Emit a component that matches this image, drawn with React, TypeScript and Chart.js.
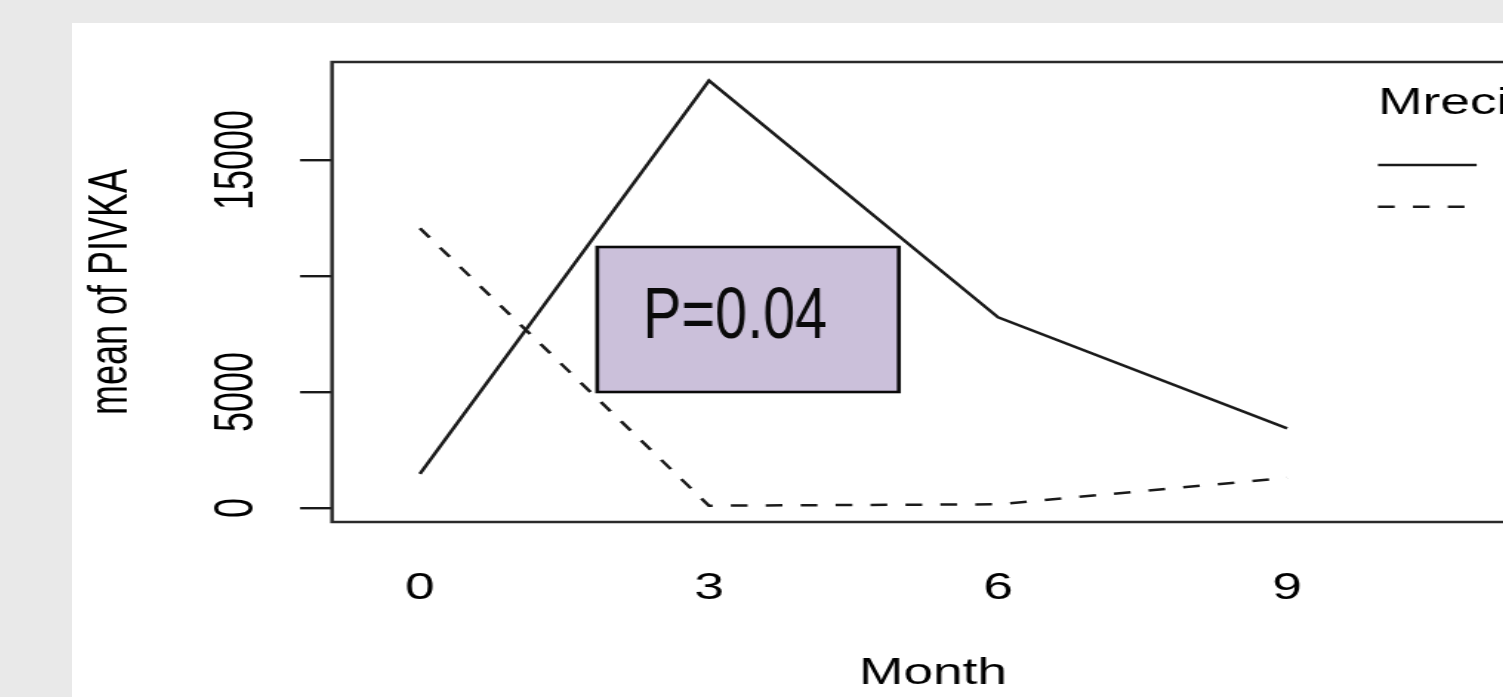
import React, { useEffect, useRef } from "react";
import { Chart, registerables } from "chart.js";

Chart.register(...registerables);

// ---- data ----
const MONTHS = [0, 3, 6, 9];
const SERIES_NAMES = ["CR/PR", "SD/PD"];
const SOLID_VALUES = [1470, 18420, 8220, 3435];
const DASHED_VALUES = [12056, 100, 160, 1300];
const Y_TICKS = [0, 5000, 10000, 15000];
const Y_TICK_LABELS = ["0", "5000", "", "15000"];
const X_TITLE = "Month";
const Y_TITLE = "mean of PIVKA";
const LEGEND_TITLE = "Mrecist";
const P_TEXT = "P=0.04";

// ---- layout / style constants ----
const STRETCH = 1.48;
const CANVAS_W = 1000;
const CANVAS_H = 674;
const FONT = '"Liberation Sans", Arial, Helvetica, sans-serif';
const P_BOX = { x0: 1.84, x1: 4.97, y0: 5000, y1: 11250 };
const LINE_W = 2.5;

const overlayPlugin = {
  id: "overlay",
  afterDatasetsDraw(chart: any) {
    const { ctx, chartArea, scales } = chart;
    const ys = scales.y;
    const xs = scales.x;
    ctx.save();
    // plot frame
    ctx.strokeStyle = "#2a2a2a";
    ctx.lineWidth = 2.5;
    ctx.setLineDash([]);
    ctx.strokeRect(chartArea.left, chartArea.top, chartArea.right - chartArea.left, chartArea.bottom - chartArea.top);

    // y tick labels (rotated)
    ctx.fillStyle = "#000";
    ctx.font = `36px ${FONT}`;
    ctx.textAlign = "center";
    ctx.textBaseline = "middle";
    Y_TICKS.forEach((v, i) => {
      const lbl = Y_TICK_LABELS[i];
      if (!lbl) return;
      const py = ys.getPixelForValue(v);
      ctx.save();
      ctx.translate(111.8, py);
      ctx.rotate(-Math.PI / 2);
      ctx.fillText(lbl, 0, 0);
      ctx.restore();
    });

    // P-value box
    const bx0 = xs.getPixelForValue(P_BOX.x0);
    const bx1 = xs.getPixelForValue(P_BOX.x1);
    const by0 = ys.getPixelForValue(P_BOX.y1);
    const by1 = ys.getPixelForValue(P_BOX.y0);
    ctx.fillStyle = "#cbc0da";
    ctx.fillRect(bx0, by0, bx1 - bx0, by1 - by0);
    ctx.strokeStyle = "#0a0a0a";
    ctx.lineWidth = 2.6;
    ctx.strokeRect(bx0, by0, bx1 - bx0, by1 - by0);
    ctx.fillStyle = "#0a0a0a";
    ctx.font = `72px ${FONT}`;
    ctx.textAlign = "left";
    ctx.textBaseline = "alphabetic";
    ctx.save();
    ctx.translate(bx0 + 31, by0 + 91);
    ctx.scale(0.54, 1);
    ctx.fillText(P_TEXT, 0, 0);
    ctx.restore();

    // legend
    const lx = 882.4;
    ctx.fillStyle = "#000";
    ctx.font = `36px ${FONT}`;
    ctx.textAlign = "left";
    ctx.textBaseline = "alphabetic";
    ctx.fillText(LEGEND_TITLE, lx, 91);
    const rows = [142, 183.7];
    chart.data.datasets.forEach((ds: any, i: number) => {
      ctx.strokeStyle = ds.borderColor;
      ctx.lineWidth = LINE_W;
      ctx.setLineDash(ds.borderDash || []);
      ctx.beginPath();
      ctx.moveTo(lx, rows[i]);
      ctx.lineTo(lx + 66.7, rows[i]);
      ctx.stroke();
      ctx.setLineDash([]);
      ctx.textBaseline = "middle";
      ctx.fillText(ds.label, 969, rows[i]);
    });
    ctx.restore();
  },
};

export default function App() {
  const ref = useRef<HTMLCanvasElement | null>(null);
  useEffect(() => {
    if (!ref.current) return;
    const chart = new Chart(ref.current, {
      type: "line",
      data: {
        datasets: [
          {
            label: SERIES_NAMES[0],
            data: MONTHS.map((m, i) => ({ x: m, y: SOLID_VALUES[i] })),
            borderColor: "#1a1a1a",
            borderWidth: LINE_W,
            pointRadius: 0,
            tension: 0,
            fill: false,
          },
          {
            label: SERIES_NAMES[1],
            data: MONTHS.map((m, i) => ({ x: m, y: DASHED_VALUES[i] })),
            borderColor: "#1a1a1a",
            borderWidth: LINE_W,
            borderDash: [11.3, 12.3],
            pointRadius: 0,
            tension: 0,
            fill: false,
          },
        ],
      },
      options: {
        animation: false,
        responsive: false,
        devicePixelRatio: 1,
        layout: { padding: { left: 0, top: 39, right: 12.3, bottom: 0 } },
        plugins: { legend: { display: false }, tooltip: { enabled: false } },
        scales: {
          x: {
            type: "linear",
            min: -0.912,
            max: 11.56,
            afterBuildTicks: (s: any) => {
              s.ticks = MONTHS.map((v) => ({ value: v }));
            },
            afterFit: (s: any) => {
              s.height = 175;
            },
            grid: { display: false },
            border: { display: false },
            ticks: {
              padding: 37,
              color: "#000",
              font: { family: FONT, size: 36 },
              maxRotation: 0,
              autoSkip: false,
              callback: (v: any) => String(v),
            },
            title: {
              display: true,
              text: X_TITLE,
              color: "#000",
              font: { family: FONT, size: 36 },
              padding: { top: 0, bottom: 1 },
            },
          },
          y: {
            type: "linear",
            min: -603,
            max: 19224,
            afterBuildTicks: (s: any) => {
              s.ticks = Y_TICKS.map((v) => ({ value: v }));
            },
            afterFit: (s: any) => {
              s.width = 175.7;
            },
            grid: {
              drawOnChartArea: false,
              drawTicks: true,
              tickLength: 21.6,
              color: "#1a1a1a",
              lineWidth: 2.4,
            },
            border: { display: false },
            ticks: { display: false },
            title: {
              display: true,
              text: Y_TITLE,
              color: "#000",
              font: { family: FONT, size: 36 },
              padding: { top: 5.1, bottom: 0 },
            },
          },
        },
      },
      plugins: [overlayPlugin],
    });
    return () => chart.destroy();
  }, []);

  return (
    <div
      style={{
        position: "fixed",
        left: 0,
        top: 0,
        width: 1503,
        height: 697,
        overflow: "hidden",
        background: "#e9e9e9",
      }}
    >
      <div
        style={{
          position: "absolute",
          left: 72,
          top: 23,
          width: 1431,
          height: 674,
          background: "#ffffff",
          overflow: "hidden",
        }}
      >
        <div
          style={{
            position: "absolute",
            left: 0,
            top: 0,
            width: CANVAS_W,
            height: CANVAS_H,
            transform: `scaleX(${STRETCH})`,
            transformOrigin: "0 0",
          }}
        >
          <canvas ref={ref} width={CANVAS_W} height={CANVAS_H} />
        </div>
      </div>
    </div>
  );
}
